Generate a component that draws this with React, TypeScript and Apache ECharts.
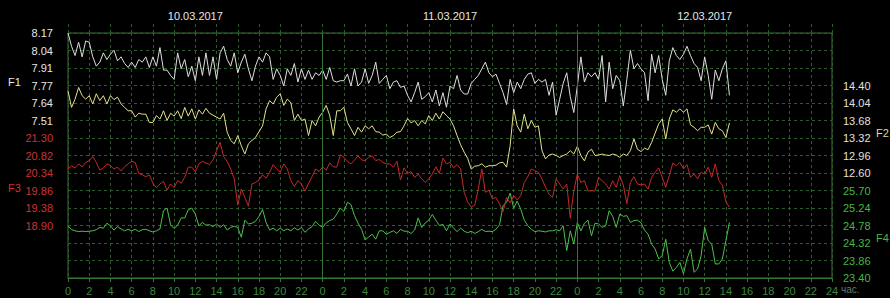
import React, { useEffect, useRef } from "react";
import * as echarts from "echarts";

// time step between samples, in hours (20 minutes)
const STEP_H = 1 / 3;

const F1 = [
  8.17, 8.07, 8.0, 8.1, 7.99, 8.11, 8.1, 7.99, 7.92, 7.95,
  8.02, 7.97, 8.01, 8.04, 7.96, 7.99, 7.94, 7.91, 7.95, 7.91,
  7.97, 7.95, 7.99, 7.91, 7.99, 7.92, 8.06, 7.89, 7.89, 7.85,
  7.82, 8.02, 7.9, 7.97, 7.84, 7.92, 7.81, 7.99, 7.85, 8.02,
  7.85, 7.99, 7.82, 8.02, 8.07, 7.97, 7.92, 8.02, 7.87, 7.95,
  8.01, 7.9, 7.81, 7.92, 7.99, 7.95, 8.02, 7.99, 7.82, 7.9,
  7.85, 7.77, 7.9, 7.85, 7.94, 7.8, 7.9, 7.82, 7.89, 7.82,
  7.87, 7.85, 7.89, 7.82, 7.91, 7.81, 7.8, 7.81, 7.81, 7.86,
  7.77, 7.9, 7.77, 7.8, 7.9, 7.79, 7.85, 7.95, 7.79, 7.82,
  7.85, 7.75, 7.8, 7.81, 7.76, 7.77, 7.7, 7.65, 7.72, 7.8,
  7.67, 7.69, 7.72, 7.65, 7.74, 7.62, 7.72, 7.61, 7.77, 7.75,
  7.85, 7.74, 7.71, 7.71, 7.79, 7.82, 7.85, 7.9, 7.95, 7.87,
  7.84, 7.86, 7.79, 7.72, 7.63, 7.82, 7.72, 7.8, 7.75, 7.82,
  7.86, 7.87, 7.79, 7.82, 7.8, 7.82, 7.7, 7.8, 7.55, 7.67,
  7.79, 7.87, 7.69, 7.57, 7.77, 7.99, 7.8, 7.87, 7.84, 7.87,
  7.82, 8.0, 7.65, 7.95, 7.75, 7.85, 7.81, 7.62, 7.82, 8.04,
  7.9, 7.94, 7.9, 7.87, 7.66, 8.01, 7.87, 8.0, 7.82, 7.7,
  7.96, 8.06, 8.0, 7.97, 8.01, 8.07, 8.0, 7.94, 7.91, 7.81,
  7.99, 7.85, 7.67, 7.89, 7.81, 7.9, 7.96, 7.7,
];

const F2 = [
  14.29, 13.95, 14.12, 14.36, 14.19, 14.12, 14.19, 14.02, 14.23, 14.09,
  14.19, 14.02, 14.19, 14.11, 14.16, 14.02, 13.95, 13.88, 13.88, 13.75,
  13.83, 13.81, 13.81, 13.64, 13.64, 13.78, 13.71, 13.88, 13.68, 13.83,
  13.77, 13.88, 13.72, 13.95, 13.77, 13.92, 13.71, 13.9, 13.81, 13.93,
  13.83, 13.79, 13.75, 13.71, 13.83, 13.44, 13.27, 13.2, 13.37, 13.16,
  12.99, 13.2, 13.27, 13.33, 13.45, 13.57, 13.92, 14.09, 14.02, 14.16,
  14.23, 13.99, 14.12, 14.05, 13.68, 13.81, 13.68, 13.71, 13.37, 13.68,
  13.57, 13.75, 13.85, 13.99, 13.78, 13.37, 13.88, 13.88, 13.95, 13.64,
  13.51, 13.37, 13.54, 13.44, 13.57, 13.51, 13.57, 13.45, 13.44, 13.38,
  13.4, 13.33, 13.37, 13.44, 13.45, 13.57, 13.72, 13.63, 13.68, 13.57,
  13.68, 13.61, 13.78, 13.68, 13.83, 13.71, 13.86, 13.78, 13.71, 13.57,
  13.37, 13.18, 13.03, 12.9, 12.68, 12.74, 12.75, 12.79, 12.72, 12.75,
  12.75, 12.76, 12.81, 12.82, 12.72, 13.16, 13.92, 13.57, 13.44, 13.81,
  13.51, 13.68, 13.54, 13.57, 13.06, 12.89, 12.97, 12.99, 12.96, 12.92,
  12.96, 12.99, 13.06, 12.99, 13.15, 12.96, 12.85, 13.03, 13.09, 12.96,
  12.97, 12.99, 12.97, 12.96, 12.99, 12.97, 12.92, 12.99, 12.96, 13.06,
  13.3, 13.09, 13.04, 13.11, 13.08, 13.23, 13.42, 13.61, 13.71, 13.3,
  13.71, 13.9, 13.85, 13.92, 13.85, 13.92, 13.59, 13.54, 13.47, 13.54,
  13.54, 13.59, 13.4, 13.64, 13.51, 13.47, 13.33, 13.63,
];

const F3 = [
  20.45, 20.54, 20.48, 20.59, 20.51, 20.63, 20.68, 20.79, 20.63, 20.42,
  20.48, 20.59, 20.54, 20.45, 20.5, 20.4, 20.51, 20.59, 20.66, 20.63,
  20.33, 20.29, 20.24, 20.29, 20.06, 19.94, 20.04, 20.11, 19.87, 20.04,
  19.94, 20.13, 20.06, 20.22, 20.5, 20.5, 20.38, 20.59, 20.66, 20.61,
  20.57, 20.7, 20.95, 21.18, 20.79, 20.66, 20.45, 20.18, 19.46, 19.9,
  19.67, 19.43, 20.04, 20.08, 20.15, 20.29, 20.2, 20.36, 20.57, 20.45,
  20.36, 20.59, 20.45, 20.13, 19.97, 20.13, 20.04, 19.84, 20.06, 20.24,
  20.45, 20.38, 20.51, 20.42, 20.62, 20.51, 20.5, 20.84, 20.77, 20.66,
  20.59, 20.7, 20.81, 20.7, 20.68, 20.77, 20.81, 20.68, 20.71, 20.63,
  20.59, 20.59, 20.5, 20.66, 20.15, 20.48, 20.33, 20.38, 20.22, 20.31,
  20.18, 20.08, 20.18, 20.31, 20.51, 20.33, 20.75, 20.59, 20.63, 20.48,
  20.57, 20.45, 19.81, 19.55, 19.41, 19.46, 19.9, 20.45, 19.81, 19.87,
  19.63, 19.67, 19.49, 19.28, 19.67, 19.52, 19.72, 19.6, 19.72, 20.08,
  20.24, 20.45, 20.4, 20.36, 20.18, 19.95, 19.76, 19.67, 20.18, 20.04,
  19.9, 20.04, 19.1, 19.85, 20.31, 20.08, 20.13, 19.85, 19.85, 19.85,
  20.22, 20.13, 20.04, 19.9, 20.13, 19.95, 20.27, 20.01, 19.5, 20.08,
  20.24, 20.04, 20.01, 20.04, 19.9, 20.22, 20.36, 20.48, 20.22, 19.95,
  20.27, 20.61, 20.54, 20.63, 20.45, 20.57, 20.22, 20.31, 20.18, 20.36,
  20.31, 20.5, 20.22, 20.59, 20.13, 20.01, 19.55, 19.4,
];

const F4 = [
  24.77, 24.67, 24.64, 24.62, 24.63, 24.62, 24.63, 24.64, 24.67, 24.73,
  24.71, 24.84, 24.77, 24.66, 24.75, 24.69, 24.64, 24.68, 24.64, 24.68,
  24.62, 24.67, 24.68, 24.64, 24.61, 24.64, 24.69, 25.17, 25.24, 24.8,
  24.7, 24.79, 24.98, 24.98, 25.19, 25.24, 25.08, 24.77, 24.86, 24.79,
  24.8, 24.75, 24.82, 24.73, 24.8, 24.66, 24.73, 24.76, 24.73, 24.47,
  24.92, 24.82, 24.84, 24.89, 25.02, 25.2, 24.86, 24.66, 24.71, 24.64,
  24.71, 24.64, 24.69, 24.64, 24.72, 24.66, 24.73, 24.6, 24.69, 24.75,
  24.89, 24.79, 24.73, 24.85, 24.91, 24.95, 25.08, 25.24, 25.15, 25.39,
  25.33, 25.04, 24.84, 24.68, 24.4, 24.48, 24.55, 24.42, 24.64, 24.64,
  24.55, 24.6, 24.64, 24.57, 24.68, 24.63, 24.63, 24.57, 24.66, 24.98,
  24.73, 24.85, 24.92, 25.07, 24.92, 24.78, 24.81, 24.64, 24.82, 24.71,
  24.62, 24.71, 24.63, 24.59, 24.63, 24.57, 24.62, 24.68, 24.62, 24.63,
  24.62, 24.68, 24.8, 25.3, 25.39, 25.63, 25.24, 25.42, 25.21, 24.92,
  24.77, 24.68, 24.62, 24.64, 24.63, 24.61, 24.64, 24.64, 24.67, 24.64,
  24.77, 24.12, 24.64, 24.29, 24.86, 24.64, 24.84, 24.92, 24.51, 24.84,
  24.82, 24.73, 24.77, 25.17, 25.02, 24.73, 25.08, 25.02, 25.04, 24.86,
  24.91, 24.92, 24.85, 24.66, 24.55, 24.29, 24.16, 23.9, 23.99, 24.42,
  23.81, 23.58, 23.68, 23.81, 23.51, 23.9, 24.16, 23.55, 23.64, 23.99,
  24.73, 24.38, 24.29, 23.77, 23.77, 23.9, 24.38, 24.86,
];

const DATES = ["10.03.2017", "11.03.2017", "12.03.2017"];
const DAY_BOUNDARIES = [24, 48];
const HOURS_TOTAL = 72;

// axis scales: [min, max, interval, labelLow, labelHigh]
const AXIS_F1 = [6.322, 8.17, 0.132, 7.51, 8.17];
const AXIS_F3 = [17.46, 24.18, 0.48, 18.9, 21.3];
const AXIS_F2 = [10.44, 15.48, 0.36, 12.6, 14.4];
const AXIS_F4 = [23.4, 29.84, 0.46, 23.4, 25.7];

const FONT = "Liberation Sans, Arial, sans-serif";
const FRAME = "#357535";
const GRID_DASH = "#2c5c2c";

const toPairs = (arr: number[]) => arr.map((v, i) => [i * STEP_H, v]);

function yAxisFor(a: number[], position: string, color: string, margin: number, withSplit: boolean) {
  return {
    type: "value",
    position,
    min: a[0],
    max: a[1],
    interval: a[2],
    axisLine: { show: false },
    axisTick: { show: false },
    splitLine: withSplit
      ? { show: true, lineStyle: { color: GRID_DASH, type: [3, 3], width: 1 } }
      : { show: false },
    axisLabel: {
      show: true,
      margin,
      color,
      fontSize: 11,
      fontFamily: FONT,
      align: position === "left" ? "right" : "left",
      formatter: (v: number) =>
        v >= a[3] - 0.005 && v <= a[4] + 0.005 ? v.toFixed(2) : "",
    },
  };
}

export default function App() {
  const ref = useRef<HTMLDivElement>(null);
  useEffect(() => {
    if (!ref.current) return;
    const chart = echarts.init(ref.current, undefined, { renderer: "svg" });
    const option: any = {
      animation: false,
      backgroundColor: "#000000",
      grid: {
        left: 68,
        right: 58,
        top: 33,
        bottom: 20,
        show: true,
        borderColor: FRAME,
        borderWidth: 1,
        backgroundColor: "transparent",
      },
      xAxis: [
        {
          type: "value",
          min: 0,
          max: HOURS_TOTAL,
          interval: 2,
          position: "bottom",
          axisLine: { show: true, lineStyle: { color: FRAME, width: 1 } },
          axisTick: { show: true, length: 4, lineStyle: { color: FRAME } },
          splitLine: { show: true, lineStyle: { color: GRID_DASH, type: [3, 3], width: 1 } },
          axisLabel: {
            margin: 7,
            color: "#3d873d",
            fontSize: 11,
            fontFamily: FONT,
            formatter: (v: number) => (v === HOURS_TOTAL ? "24" : String(v % 24)),
          },
        },
        {
          type: "value",
          min: 0,
          max: HOURS_TOTAL,
          interval: 12,
          position: "top",
          axisLine: { show: false },
          axisTick: { show: false },
          splitLine: { show: false },
          axisLabel: {
            margin: 12,
            color: "#e6e6e6",
            fontSize: 11,
            fontFamily: FONT,
            formatter: (v: number) =>
              (v - 12) % 24 === 0 ? DATES[(v - 12) / 24] ?? "" : "",
          },
        },
        {
          type: "value",
          min: 0,
          max: HOURS_TOTAL,
          interval: 2,
          position: "top",
          axisLine: { show: false },
          axisTick: {
            show: true,
            length: 10,
            lineStyle: { color: GRID_DASH, type: [3, 3], width: 1 },
          },
          splitLine: { show: false },
          axisLabel: { show: false },
        },
      ],
      yAxis: [
        yAxisFor(AXIS_F1, "left", "#e6e6e6", 15, true),
        yAxisFor(AXIS_F3, "left", "#cc3333", 15, false),
        yAxisFor(AXIS_F2, "right", "#e2e2da", 11, false),
        yAxisFor(AXIS_F4, "right", "#45b845", 11, false),
      ],
      series: [
        {
          name: "F4",
          type: "line",
          xAxisIndex: 0,
          yAxisIndex: 3,
          data: toPairs(F4),
          showSymbol: false,
          lineStyle: { color: "#4cc04c", width: 1 },
          markLine: {
            silent: true,
            symbol: ["none", "none"],
            label: { show: false },
            lineStyle: { color: FRAME, type: "solid", width: 1 },
            data: DAY_BOUNDARIES.map((d) => ({ xAxis: d })),
          },
        },
        {
          name: "F3",
          type: "line",
          xAxisIndex: 0,
          yAxisIndex: 1,
          data: toPairs(F3),
          showSymbol: false,
          lineStyle: { color: "#c42a2a", width: 1 },
        },
        {
          name: "F2",
          type: "line",
          xAxisIndex: 0,
          yAxisIndex: 2,
          data: toPairs(F2),
          showSymbol: false,
          lineStyle: { color: "#e2e28a", width: 1 },
        },
        {
          name: "F1",
          type: "line",
          xAxisIndex: 0,
          yAxisIndex: 0,
          data: toPairs(F1),
          showSymbol: false,
          lineStyle: { color: "#dedede", width: 1 },
        },
      ],
      graphic: [
        { type: "text", left: 8, top: 76, style: { text: "F1", fill: "#e6e6e6", fontSize: 11, fontFamily: FONT } },
        { type: "text", left: 8, top: 182, style: { text: "F3", fill: "#cc3333", fontSize: 11, fontFamily: FONT } },
        { type: "text", left: 876, top: 127, style: { text: "F2", fill: "#dada9a", fontSize: 11, fontFamily: FONT } },
        { type: "text", left: 876, top: 232, style: { text: "F4", fill: "#45b845", fontSize: 11, fontFamily: FONT } },
        { type: "text", left: 841, top: 284, style: { text: "час.", fill: "#6c7a6c", fontSize: 10, fontFamily: FONT } },
      ],
    };
    chart.setOption(option);
    return () => chart.dispose();
  }, []);
  return (
    <div
      ref={ref}
      style={{ position: "fixed", left: 0, top: 0, width: 890, height: 298, background: "#000" }}
    />
  );
}
